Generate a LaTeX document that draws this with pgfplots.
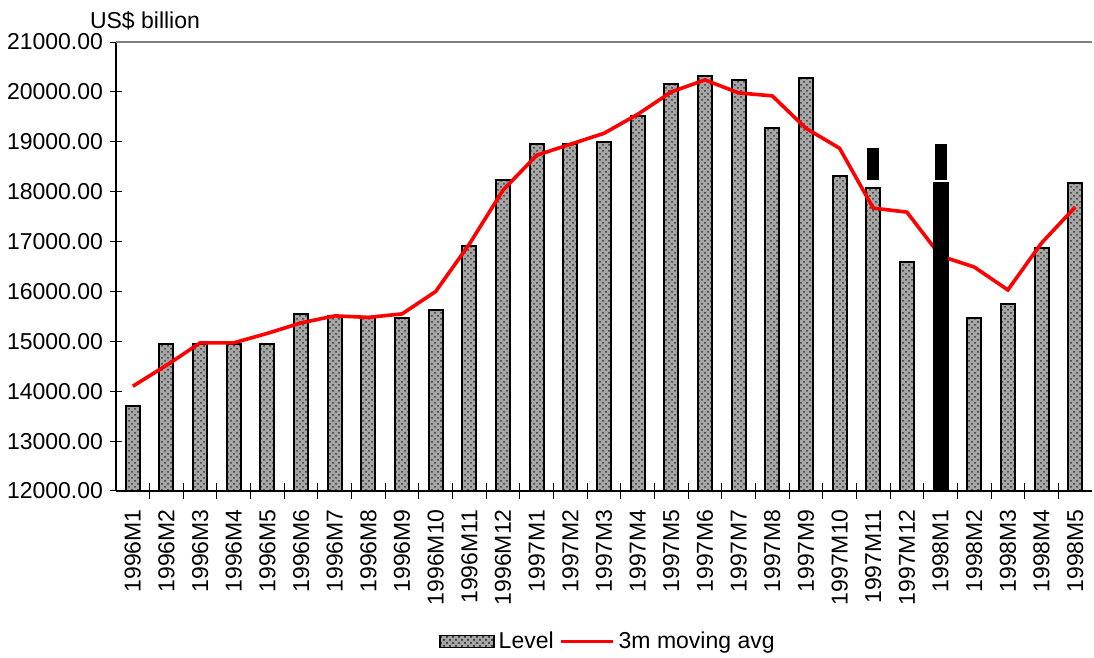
\documentclass[border=0pt]{standalone}
\usepackage{pgfplots}
\pgfplotsset{compat=1.18}
\usepackage{fontspec}
\setmainfont{Liberation Sans}
\usetikzlibrary{patterns}

\pgfplotstableread{
x level avg
0  13700 14100
1  14950 14520
2  14950 14970
3  14950 14970
4  14950 15160
5  15550 15370
6  15500 15510
7  15480 15480
8  15470 15550
9  15630 16000
10 16910 16950
11 18230 18030
12 18950 18730
13 18950 18950
14 19000 19170
15 19510 19550
16 20150 20000
17 20320 20240
18 20240 19980
19 19270 19920
20 20280 19270
21 18310 18870
22 18070 17670
23 16590 17590
24 18170 16710
25 15470 16490
26 15750 16030
27 16870 16970
28 18170 17690
}\datatable

\begin{document}
\begin{tikzpicture}[font=\fontsize{11.5}{13.5}\selectfont]
\useasboundingbox (0,0) rectangle (547pt,-329pt);
\begin{axis}[
  at={(58pt,-21pt)}, anchor=north west,
  scale only axis, width=488pt, height=224.5pt,
  xmin=-0.5, xmax=28.5,
  ymin=12000, ymax=21000,
  clip mode=individual,
  axis x line*=bottom, axis y line*=left,
  axis line style={black, line width=0.6pt},
  xtick={0,...,28},
  xticklabels={1996M1,1996M2,1996M3,1996M4,1996M5,1996M6,1996M7,1996M8,1996M9,1996M10,1996M11,1996M12,
    1997M1,1997M2,1997M3,1997M4,1997M5,1997M6,1997M7,1997M8,1997M9,1997M10,1997M11,1997M12,
    1998M1,1998M2,1998M3,1998M4,1998M5},
  x tick label style={rotate=90, anchor=east, inner xsep=6pt, inner ysep=1pt},
  major x tick style={draw=none},
  minor x tick num=1,
  minor tick length=8pt,
  ytick={12000,13000,...,21000},
  scaled y ticks=false,
  yticklabel style={/pgf/number format/fixed, /pgf/number format/fixed zerofill,
    /pgf/number format/precision=2, /pgf/number format/1000 sep={}},
  /pgf/number format/assume math mode=true,
  tick align=center, major tick length=6pt,
  tick style={black, line width=0.5pt},
  legend columns=2,
  legend style={at={(0.505,-0.335)}, anchor=center, draw=none, fill=none,
    /tikz/every even column/.append style={column sep=1pt}},
  legend cell align=left,
]
\addplot[ybar, bar width=7pt, bar shift=0pt, draw=black, line width=1pt,
  fill=black!35, postaction={pattern=crosshatch dots, pattern color=black!80},
  legend image code/.code={\draw[black, line width=0.8pt, fill=black!35, postaction={pattern=crosshatch dots, pattern color=black!80}] (0pt,-3pt) rectangle (27pt,3pt);}]
  table[x=x, y=level] {\datatable};
\addlegendentry{Level}
\addplot[red, line width=1.8pt,
  legend image code/.code={\draw[red, line width=1.5pt] (0pt,0pt) -- (26pt,0pt);}]
  table[x=x, y=avg] {\datatable};
\addlegendentry{3m moving avg}
\addplot[ybar, bar width=7pt, bar shift=0pt, draw=black, fill=black, forget plot]
  coordinates {(24,18170)};
\addplot[black, line width=6pt, line cap=butt, forget plot] coordinates {(22,18230) (22,18870)};
\addplot[black, line width=6pt, line cap=butt, forget plot] coordinates {(24,18230) (24,18950)};
\draw[black!50, line width=1pt] (rel axis cs:0,1) -- (rel axis cs:1,1);
\node[anchor=base] at (rel axis cs:0,1) [xshift=14.5pt, yshift=7pt] {US\$ billion};
\end{axis}
\end{tikzpicture}
\end{document}
